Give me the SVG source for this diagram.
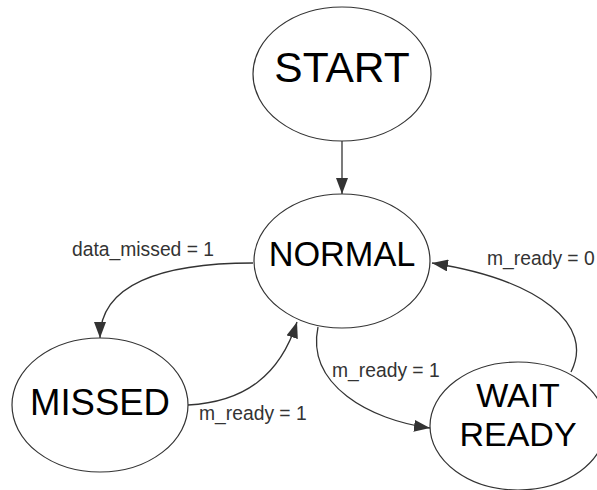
<svg xmlns="http://www.w3.org/2000/svg" width="597" height="490" viewBox="0 0 597 490">
  <defs>
    <style>
      .state { fill: #ffffff; stroke: #333333; stroke-width: 1.2; }
      .name { font-family: "Liberation Sans", Arial, sans-serif; fill: #000000; text-anchor: middle; }
      .edge { fill: none; stroke: #333333; stroke-width: 1.3; }
      .label { font-family: "Liberation Sans", Arial, sans-serif; font-size: 19.3px; fill: #333333; }
    </style>
    <marker id="arrow" viewBox="0 0 16 12" refX="16" refY="6" markerWidth="16" markerHeight="12" markerUnits="userSpaceOnUse" orient="auto">
      <path d="M0,0 L16,6 L0,12 Z" fill="#333333"/>
    </marker>
  </defs>

  <rect width="597" height="490" fill="#ffffff"/>

  <!-- transitions -->
  <g id="connectors">
    <path class="edge" d="M342,141 L342,194" marker-end="url(#arrow)"/>
    <path class="edge" d="M253,263 C160,263 100,285 100,338" marker-end="url(#arrow)"/>
    <path class="edge" d="M188,405 C245,402 280,375 297,322" marker-end="url(#arrow)"/>
    <path class="edge" d="M318,327 C306,385 370,420 430,428" marker-end="url(#arrow)"/>
    <path class="edge" d="M571,372 C595,325 540,280 432,263" marker-end="url(#arrow)"/>
    <text class="label" x="72" y="256">data_missed = 1</text>
    <text class="label" x="487" y="265">m_ready = 0</text>
    <text class="label" x="332" y="377">m_ready = 1</text>
    <text class="label" x="199" y="420">m_ready = 1</text>
  </g>

  <!-- states -->
  <g id="start">
    <ellipse class="state" cx="342" cy="74" rx="89" ry="67"/>
    <text class="name" x="342" y="82" font-size="42.5">START</text>
  </g>
  <g id="normal">
    <ellipse class="state" cx="342" cy="261" rx="88" ry="67"/>
    <text class="name" x="342" y="266" font-size="34.3">NORMAL</text>
  </g>
  <g id="missed">
    <ellipse class="state" cx="100" cy="405" rx="88" ry="67"/>
    <text class="name" x="100" y="415" font-size="36.5">MISSED</text>
  </g>
  <g id="wait-ready">
    <ellipse class="state" cx="518" cy="426" rx="88" ry="64"/>
    <text class="name" x="518" y="407" font-size="34">WAIT</text>
    <text class="name" x="518" y="446" font-size="34">READY</text>
  </g>
</svg>
